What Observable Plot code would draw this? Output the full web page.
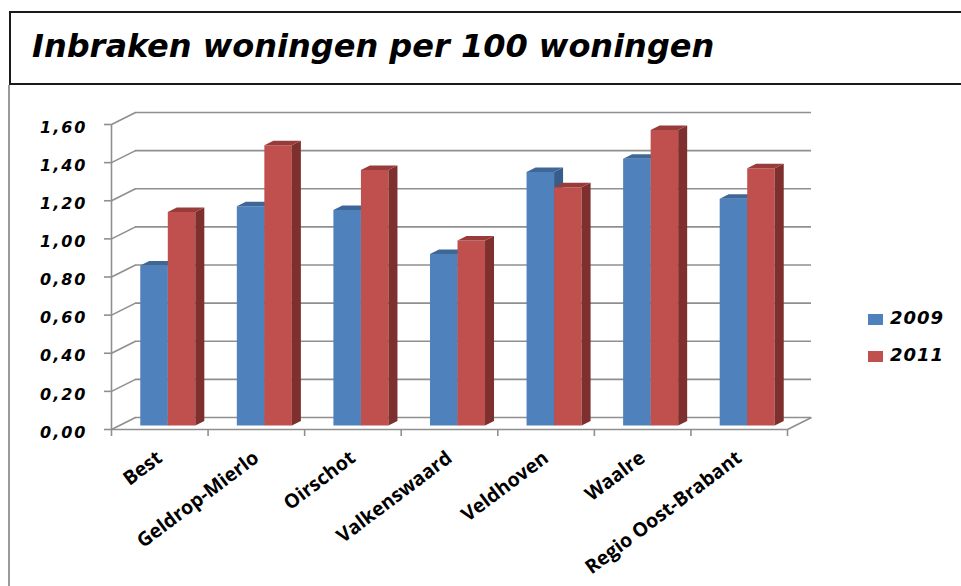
<!DOCTYPE html>
<html><head><meta charset="utf-8">
<script src="https://cdn.jsdelivr.net/npm/d3@7"></script>
<script src="https://cdn.jsdelivr.net/npm/@observablehq/plot@0.6"></script>
<style>
html,body{margin:0;padding:0;background:#fff}
body{width:961px;height:586px;overflow:hidden;position:relative;font-family:"DejaVu Sans",Verdana,sans-serif}
#titlebox{position:absolute;left:9px;top:11px;width:1000px;height:70px;border:2px solid #1a1a1a}
#title{position:absolute;left:21px;top:13px;font-size:32px;line-height:40px;font-weight:bold;font-style:italic;color:#000;white-space:nowrap}
#leftline{position:absolute;left:8px;top:85px;width:2px;height:501px;background:#9a9a9a}
#chart{position:absolute;left:0;top:85px}
.lg{position:absolute;left:868px;font-size:18px;font-weight:bold;font-style:italic;color:#000;white-space:nowrap}
.lg i{position:absolute;left:0;width:15px;height:11px}
.lg span{position:absolute;left:22px;line-height:20px;letter-spacing:1px}
</style></head>
<body>
<div id="titlebox"><div id="title">Inbraken woningen per 100 woningen</div></div>
<div id="leftline"></div>
<div id="chart"></div>
<div id="legend"></div>
<script>
const categories = ["Best","Geldrop-Mierlo","Oirschot","Valkenswaard","Veldhoven","Waalre","Regio Oost-Brabant"];
const series = ["2009","2011"];
const values2009 = [0.84,1.15,1.13,0.90,1.33,1.40,1.19];
const values2011 = [1.12,1.47,1.34,0.97,1.25,1.55,1.35];
const yTicks = [0,0.2,0.4,0.6,0.8,1.0,1.2,1.4,1.6];
const yLabels = ["0,00","0,20","0,40","0,60","0,80","1,00","1,20","1,40","1,60"];

const frontColors = ["#4F81BD","#C0504D"];
const sideColors = ["#385D8A","#7D302E"];
const topColors = ["#3E6798","#973C3A"];

const W = 961, H = 501, mL = 111, mR = 174, mT = 39, mB = 157;
const n = categories.length, yMax = 1.6;
const pxX = (W - mL - mR) / n, pxY = (H - mT - mB) / yMax;
const ux = px => px / pxX, uy = px => px / pxY;
// 3D offsets (pixels -> data units)
const backX = ux(24), backY = uy(12);
const frontX = ux(8), frontY = uy(4);
const depthX = ux(9), depthY = uy(4.5);
const bw = 0.285;

const seriesValues = [values2009, values2011];
function faces(s) {
  const front = [], side = [], top = [];
  seriesValues[s].forEach((v, i) => {
    const x1 = i + 0.5 + (s - 1) * bw + frontX, x2 = x1 + bw;
    const b = frontY, t = v + frontY;
    const id = categories[i];
    [[x1,b],[x2,b],[x2,t],[x1,t]].forEach(([x,y]) => front.push({id,x,y}));
    [[x2,b],[x2+depthX,b+depthY],[x2+depthX,t+depthY],[x2,t]].forEach(([x,y]) => side.push({id,x,y}));
    [[x1,t],[x2,t],[x2+depthX,t+depthY],[x1+depthX,t+depthY]].forEach(([x,y]) => top.push({id,x,y}));
  });
  return [
    Plot.line(front, {x:"x", y:"y", z:"id", fill: frontColors[s], stroke: "none"}),
    Plot.line(side, {x:"x", y:"y", z:"id", fill: sideColors[s], stroke: "none"}),
    Plot.line(top, {x:"x", y:"y", z:"id", fill: topColors[s], stroke: "none"})
  ];
}

const grid = "#8f8f8f";
const chart = Plot.plot({
  width: W, height: H,
  marginLeft: mL, marginRight: mR, marginTop: mT, marginBottom: mB,
  x: {domain: [0, n], axis: null},
  y: {domain: [0, yMax], axis: null},
  style: {overflow: "visible", background: "transparent"},
  marks: [
    Plot.ruleY(yTicks, {y: d => d, dx: 24, dy: -12, stroke: grid, strokeWidth: 1.6}),
    Plot.link(yTicks, {x1: () => 0, y1: d => d, x2: () => backX, y2: d => d + backY, stroke: grid, strokeWidth: 1.6}),
    Plot.link([0], {x1: () => n, y1: () => 0, x2: () => n + backX, y2: () => backY, stroke: grid, strokeWidth: 1.6}),
    ...faces(0),
    ...faces(1),
    Plot.ruleX([0], {x: d => d, y1: 0, y2: yMax, stroke: grid, strokeWidth: 1.6}),
    Plot.ruleY([0], {y: d => d, x1: () => 0, x2: () => n, stroke: grid, strokeWidth: 1.6}),
    Plot.ruleY(yTicks, {y: d => d, x1: () => -ux(7), x2: () => 0, stroke: grid, strokeWidth: 1.6}),
    Plot.ruleX(d3.range(n + 1), {x: d => d, y1: () => 0, y2: () => -uy(7), stroke: grid, strokeWidth: 1.6}),
    Plot.text(yTicks, {x: () => 0, y: d => d, text: (d, i) => yLabels[i], textAnchor: "end", dx: -24, dy: 3,
      fontSize: 16, fontWeight: "bold", fontStyle: "italic", fontFamily: "DejaVu Sans", fill: "#000"}),
    Plot.text(categories, {x: (d, i) => i + 0.5, y: () => 0, text: d => d, rotate: -37, textAnchor: "end",
      dx: 0, dy: 26, fontSize: 19.5, fontWeight: "bold", fontFamily: "Open Sans", fill: "#000"})
  ]
});
chart.querySelectorAll("text").forEach(t => { if (/,/.test(t.textContent)) t.setAttribute("letter-spacing", "2"); });
document.getElementById("chart").appendChild(chart);

const legend = document.getElementById("legend");
const legendTops = [314, 351];
series.forEach((s, i) => {
  const d = document.createElement("div");
  d.className = "lg";
  d.style.top = legendTops[i] + "px";
  d.innerHTML = `<i style="background:${frontColors[i]}"></i><span style="top:-6px">${s}</span>`;
  legend.appendChild(d);
});
</script>
</body></html>
